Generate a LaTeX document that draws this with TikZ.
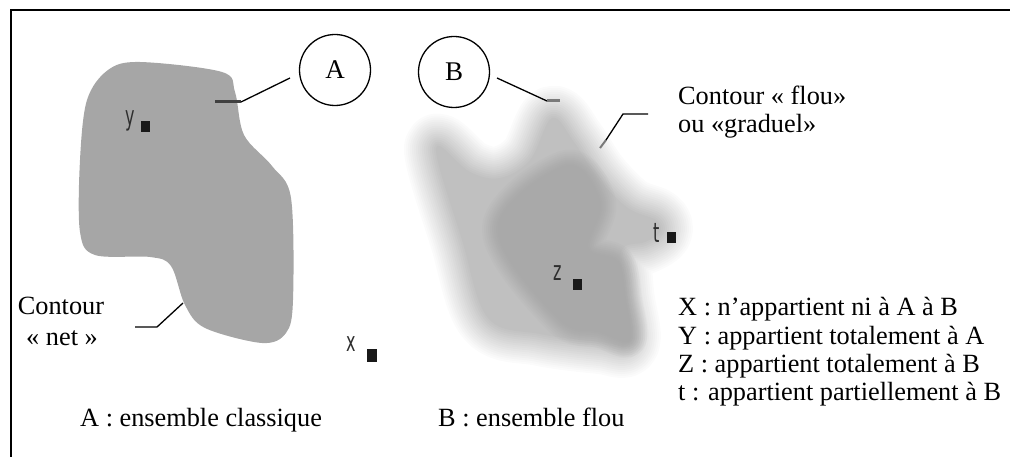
\documentclass[tikz,border=0pt]{standalone}
\usepackage{fontspec}
\setmainfont{Liberation Serif}
\newfontfamily\ptfont{DejaVu Sans}
\definecolor{setA}{HTML}{A6A6A6}
\definecolor{haloc}{HTML}{C0C0C0}
\definecolor{corec}{HTML}{A9A9A9}
\definecolor{tickA}{HTML}{404040}
\definecolor{tickB}{HTML}{7A7A7A}
\begin{document}
\begin{tikzpicture}[x=1pt,y=-1pt,
  lbl/.style={font=\fontsize{26.3}{28}\selectfont, inner sep=0pt, anchor=base west},
  ptlbl/.style={font=\ptfont\fontsize{16}{16}\selectfont, text=black!82, inner sep=0pt, anchor=base west},
  dot/.style={fill=black!90, minimum width=9pt, minimum height=11pt, inner sep=0pt},
  setname/.style={circle, draw, line width=1.3pt, minimum size=71pt, inner sep=0pt,
    font=\fontsize{27}{28}\selectfont},
  leader/.style={line width=1.3pt},
  tickmark/.style={line width=3pt},
  haloB/.style={insert path={plot[smooth cycle, tension=0.6] coordinates {
    (436,148) (470,172) (500,178) (530,160) (552,118) (574,142) (598,178)
    (628,208) (656,220) (660,232) (645,242) (622,250) (622,292) (628,342)
    (600,342) (540,334) (488,318) (462,240)}}},
  coreB/.style={insert path={plot[smooth cycle, tension=0.6] coordinates {
    (566,166) (600,202) (588,248) (618,262) (626,300) (630,340) (600,332)
    (558,318) (498,228)}}}
]
\useasboundingbox (0,0) rectangle (1010,457);

% frame (top and left sides only)
\draw[line width=1.6pt] (11,457) -- (11,10) -- (1010,10);

% crisp set A
\fill[setA] plot[smooth cycle, tension=0.55] coordinates {
  (80,160) (87,100) (108,70) (140,62) (222,72) (235,92) (244,135) (272,166)
  (291,198) (293,300) (286,333) (262,343) (205,328) (185,305) (171,266)
  (150,257) (95,255) (80,232)};

% fuzzy set B: soft halo, then a darker core, each with a linear fade outwards
\foreach \j in {16,15,...,1}{
  \pgfmathsetmacro\op{1/(\j+1)}
  \pgfmathsetmacro\lw{4*\j}
  \draw[draw=haloc, opacity=\op, line width=\lw pt, line join=round, haloB];
}
\fill[haloc, haloB];
\foreach \j in {8,7,...,1}{
  \pgfmathsetmacro\op{1/(\j+1)}
  \pgfmathsetmacro\lw{4*\j}
  \draw[draw=corec, opacity=\op, line width=\lw pt, line join=round, coreB];
}
\fill[corec, coreB];

% elements
\node[ptlbl] (ly) at (125,126) {\scalebox{1}[1.7]{y}};
\node[dot] (py) at (145,127) {};
\node[ptlbl] (lx) at (346,351) {\scalebox{1}[1.7]{x}};
\node[dot, minimum width=10pt, minimum height=13pt] (px) at (372,355) {};
\node[ptlbl] (lz) at (553,281) {\scalebox{1}[1.7]{z}};
\node[dot] (pz) at (577,285) {};
\node[ptlbl] (lt) at (653,243) {\scalebox{1}[1.7]{t}};
\node[dot] (ptt) at (671,238) {};

% set names and their leaders
\node[setname] (A) at (335,70) {A};
\node[setname] (B) at (454,72) {B};
\coordinate (aTickL) at (215,102);
\coordinate (aTickR) at (241,102);
\coordinate (aLead) at (290,78);
\draw[tickmark, tickA] (aTickL) -- (aTickR);
\draw[leader] (aTickR) -- (aLead);
\coordinate (bLead) at (497,78);
\coordinate (bTickL) at (547,101);
\coordinate (bTickR) at (560,101);
\draw[leader] (bLead) -- (bTickL);
\draw[tickmark, tickB] (bTickL) -- (bTickR);

% contour leaders
\coordinate (netEnd) at (135,327);
\coordinate (netBend) at (157,327);
\coordinate (netEdge) at (183,303);
\draw[leader] (netEnd) -- (netBend) -- (netEdge);
\coordinate (flouEdge) at (600,148);
\coordinate (flouTick) at (606,140);
\coordinate (flouBend) at (623,114);
\coordinate (flouEnd) at (648,114);
\draw[line width=2pt, tickB] (flouEdge) -- (flouTick);
\draw[leader] (flouTick) -- (flouBend) -- (flouEnd);

% texts
\node[lbl, anchor=base] (cnet1) at (61,315) {Contour};
\node[lbl, anchor=base] (cnet2) at (62,345) {« net »};
\node[lbl] (cflou1) at (678,105) {Contour « flou»};
\node[lbl] (cflou2) at (678,133) {ou «graduel»};
\node[lbl] (leg1) at (678,316) {X : n’appartient ni à A à B};
\node[lbl] (leg2) at (678,344) {Y : appartient totalement à A};
\node[lbl] (leg3) at (678,372) {Z : appartient totalement à B};
\node[lbl] (leg4) at (678,400) {t : appartient partiellement à B};
\node[lbl] (capA) at (80,426) {A : ensemble classique};
\node[lbl] (capB) at (438,426) {B : ensemble flou};
\end{tikzpicture}
\end{document}
